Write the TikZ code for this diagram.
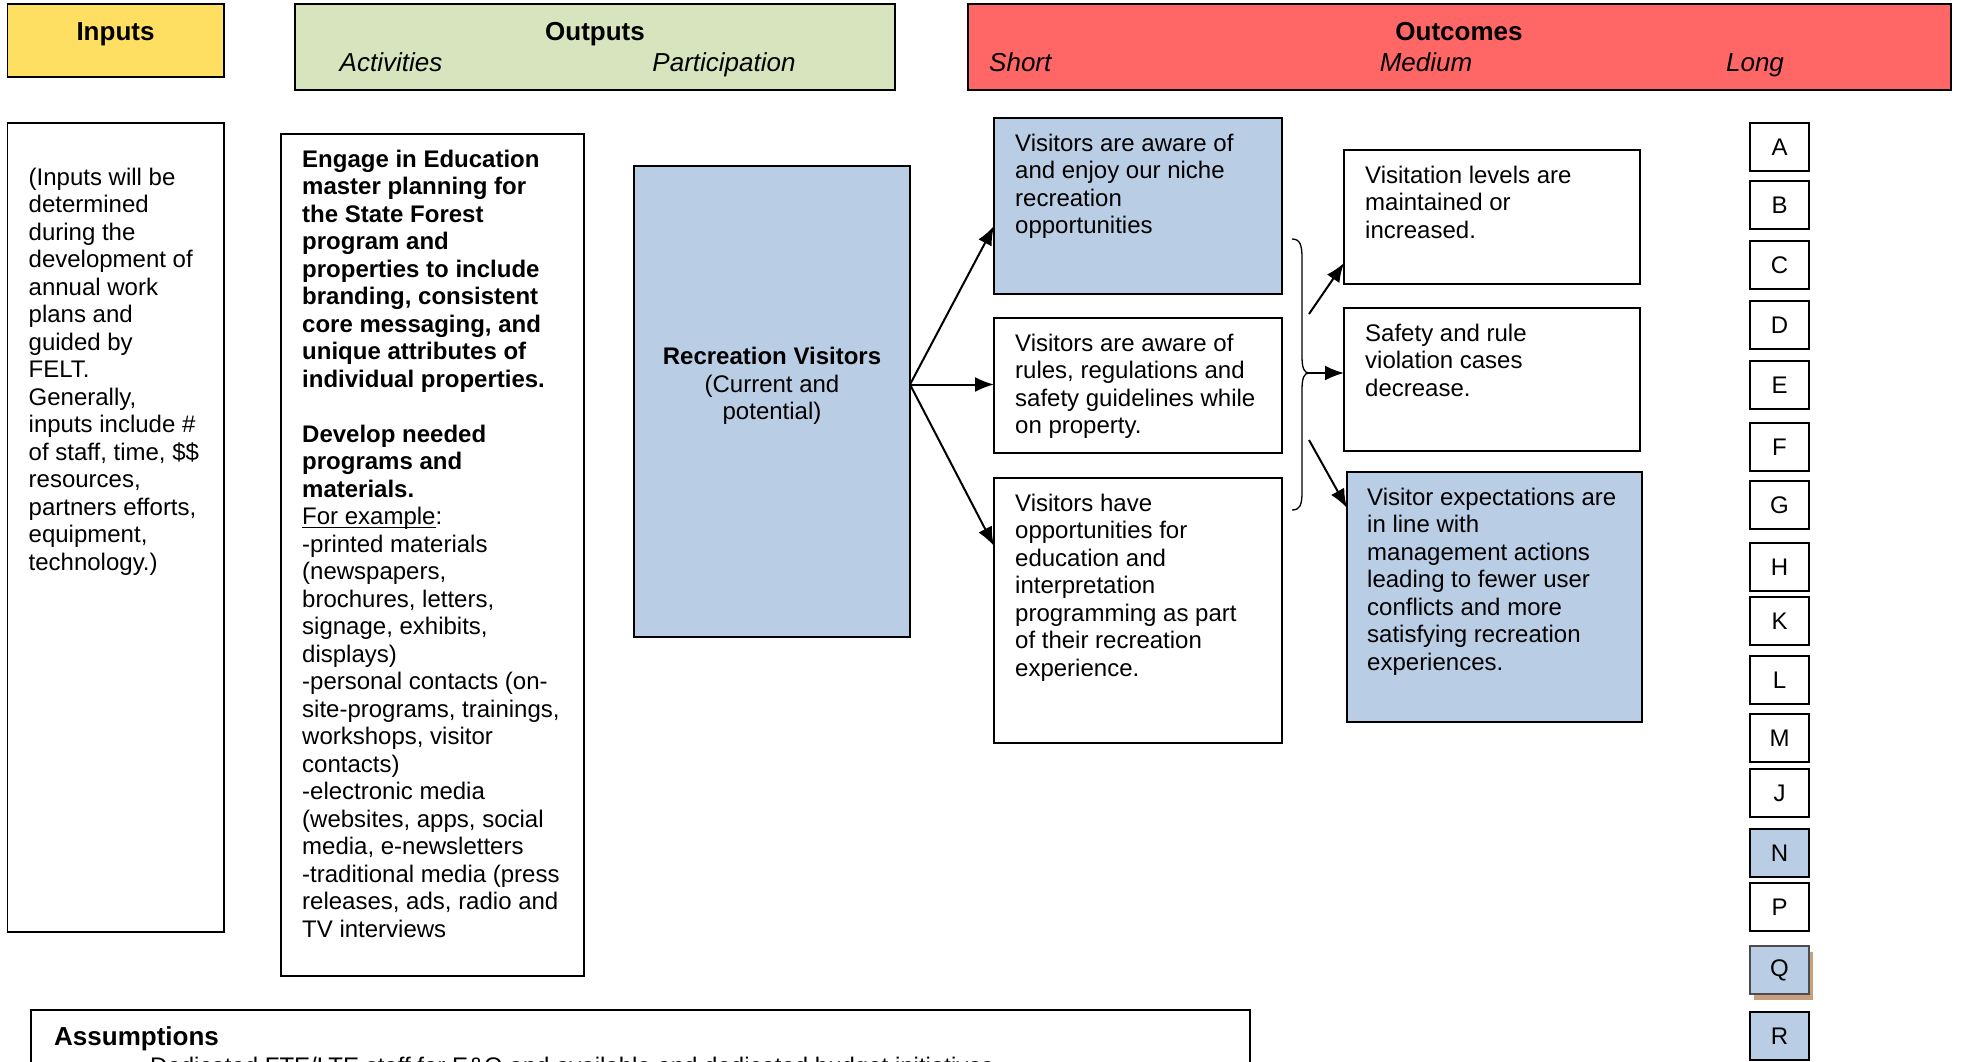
\documentclass[tikz,border=0pt]{standalone}
\usepackage{fontspec}
\setmainfont{Liberation Sans}
\usetikzlibrary{arrows.meta,calc}
\definecolor{inyellow}{HTML}{FEDF62}
\definecolor{outgreen}{HTML}{D7E4BD}
\definecolor{outred}{HTML}{FF6666}
\definecolor{boxblue}{HTML}{B9CDE5}
\definecolor{shadowtan}{HTML}{C9A07F}
\newcommand\myul[1]{\setbox0\hbox{#1}\rlap{\rule[-3pt]{\wd0}{1.3pt}}#1}
\begin{document}
\begin{tikzpicture}[x=1pt,y=-1pt,
  frame/.style={draw=black, line width=1.8pt, inner sep=0pt, outer sep=0pt, anchor=north west},
  txt/.style={inner sep=0pt, anchor=north west, align=left, font=\fontsize{24}{27.5}\selectfont},
  hdr/.style={inner sep=0pt, anchor=base, font=\fontsize{26}{30}\selectfont\bfseries},
  sub/.style={inner sep=0pt, anchor=base, font=\fontsize{26}{30}\selectfont\itshape},
  letterbox/.style={draw=black, line width=1.8pt, inner sep=0pt, outer sep=0pt, anchor=north,
    minimum width=59pt, minimum height=48pt, font=\fontsize{24}{27.5}\selectfont},
  arr/.style={line width=2pt, -{Latex[length=19pt,width=15pt]}}
]
\useasboundingbox (0,0) rectangle (1961,1062);
\fill[white] (0,0) rectangle (1961,1062);
\clip (0,0) rectangle (1961,1062);

% headers
\node[frame, fill=inyellow, minimum width=216.5pt, minimum height=73pt] (hin) at (7.5,4) {};
\node[hdr] (tin) at (115.5,41) {Inputs};
\node[frame, fill=outgreen, minimum width=600pt, minimum height=86pt] (hout) at (295,4) {};
\node[hdr] (tout) at (595,41) {Outputs};
\node[sub] (tact) at (391,72) {Activities};
\node[sub] (tpar) at (724,72) {Participation};
\node[frame, fill=outred, minimum width=983pt, minimum height=86pt] (hoc) at (968,4) {};
\node[hdr] (toc) at (1459,41) {Outcomes};
\node[sub, anchor=base west] (tshort) at (989,72) {Short};
\node[sub] (tmed) at (1426,72) {Medium};
\node[sub] (tlong) at (1755,72) {Long};

% inputs
\node[frame, minimum width=216.5pt, minimum height=809pt] (inp) at (7.5,123) {};
\node[txt] (inptxt) at (28.5,166) {\strut(Inputs will be\\determined\\during the\\development of\\annual work\\plans and\\guided by\\FELT.\\Generally,\\inputs include \#\\of staff, time, \$\$\\resources,\\partners efforts,\\equipment,\\technology.)};

% activities
\node[frame, minimum width=303pt, minimum height=842pt] (act) at (281,134) {};
\node[txt] (acttxt) at (302,148) {\strut\textbf{Engage in Education}\\\textbf{master planning for}\\\textbf{the State Forest}\\\textbf{program and}\\\textbf{properties to include}\\\textbf{branding, consistent}\\\textbf{core messaging, and}\\\textbf{unique attributes of}\\\textbf{individual properties.}\\[27.5pt]\textbf{Develop needed}\\\textbf{programs and}\\\textbf{materials.}\\\myul{For example}:\\-printed materials\\(newspapers,\\brochures, letters,\\signage, exhibits,\\displays)\\-personal contacts (on-\\site-programs, trainings,\\workshops, visitor\\contacts)\\-electronic media\\(websites, apps, social\\media, e-newsletters\\-traditional media (press\\releases, ads, radio and\\TV interviews};

% participation
\node[frame, fill=boxblue, minimum width=276pt, minimum height=471pt] (rv) at (634,166) {};
\node[txt, anchor=center, align=center] (rvtxt) at (772,386) {\textbf{Recreation Visitors}\\(Current and\\potential)};

% short
\node[frame, fill=boxblue, minimum width=288pt, minimum height=176pt] (s1) at (994,118) {};
\node[txt] (s1t) at (1015,132) {\strut Visitors are aware of\\and enjoy our niche\\recreation\\opportunities};
\node[frame, minimum width=288pt, minimum height=135pt] (s2) at (994,318) {};
\node[txt] (s2t) at (1015,332) {\strut Visitors are aware of\\rules, regulations and\\safety guidelines while\\on property.};
\node[frame, minimum width=288pt, minimum height=265pt] (s3) at (994,478) {};
\node[txt] (s3t) at (1015,492) {\strut Visitors have\\opportunities for\\education and\\interpretation\\programming as part\\of their recreation\\experience.};

% medium
\node[frame, minimum width=296pt, minimum height=134pt] (m1) at (1344,150) {};
\node[txt] (m1t) at (1365,164) {\strut Visitation levels are\\maintained or\\increased.};
\node[frame, minimum width=296pt, minimum height=143pt] (m2) at (1344,308) {};
\node[txt] (m2t) at (1365,322) {\strut Safety and rule\\violation cases\\decrease.};
\node[frame, fill=boxblue, minimum width=295pt, minimum height=250pt] (m3) at (1347,472) {};
\node[txt] (m3t) at (1367,486) {\strut Visitor expectations are\\in line with\\management actions\\leading to fewer user\\conflicts and more\\satisfying recreation\\experiences.};

% letters
\node[letterbox] (lA) at (1779.5,123) {A};
\node[letterbox] (lB) at (1779.5,181) {B};
\node[letterbox] (lC) at (1779.5,241) {C};
\node[letterbox] (lD) at (1779.5,301) {D};
\node[letterbox] (lE) at (1779.5,361) {E};
\node[letterbox] (lF) at (1779.5,423) {F};
\node[letterbox] (lG) at (1779.5,481) {G};
\node[letterbox] (lH) at (1779.5,543) {H};
\node[letterbox] (lK) at (1779.5,597) {K};
\node[letterbox] (lL) at (1779.5,656) {L};
\node[letterbox] (lM) at (1779.5,714) {M};
\node[letterbox] (lJ) at (1779.5,769) {J};
\node[letterbox, fill=boxblue] (lN) at (1779.5,829) {N};
\node[letterbox] (lP) at (1779.5,883) {P};
\node[inner sep=0pt, outer sep=0pt, anchor=north, fill=shadowtan, minimum width=59pt, minimum height=48pt] (lQs) at (1783,952) {};
\node[letterbox, fill=boxblue, draw=black!70] (lQ) at (1779.5,946) {Q};
\node[letterbox, fill=boxblue] (lR) at (1779.5,1012) {R};

% assumptions
\node[frame, minimum width=1219pt, minimum height=120pt] (asm) at (31,1010) {};
\node[hdr, anchor=base west] (asmt) at (54,1045) {Assumptions};
\node[txt, anchor=base west] (asm1) at (150,1074) {Dedicated FTE/LTE staff for E\&O and available and dedicated budget initiatives};

% connectors from participation
\coordinate (rvo) at ([yshift=17pt]rv.east);
\draw[arr] (rvo) -- ([yshift=68pt]s1.south west);
\draw[arr] (rvo) -- (rvo -| s2.west);
\draw[arr] (rvo) -- ([yshift=-68pt]s3.north west);

% brace
\coordinate (bt) at (1309,373);
\draw[line width=1.3pt] (1292,239) .. controls (1300,239) and (1302,245) .. (1302,258) -- (1302,356) .. controls (1302,368) and (1304,373) .. (bt)
  .. controls (1304,373) and (1302,378) .. (1302,390) -- (1302,492) .. controls (1302,505) and (1300,510) .. (1292,510);
\coordinate (u1) at (1309,314);
\coordinate (u3) at (1309,440);
\draw[arr] (bt) -- (bt -| m2.west);
\draw[arr] (u1) -- ([yshift=21pt]m1.south west);
\draw[arr] (u3) -- ([yshift=-36pt]m3.north west);
\end{tikzpicture}
\end{document}
